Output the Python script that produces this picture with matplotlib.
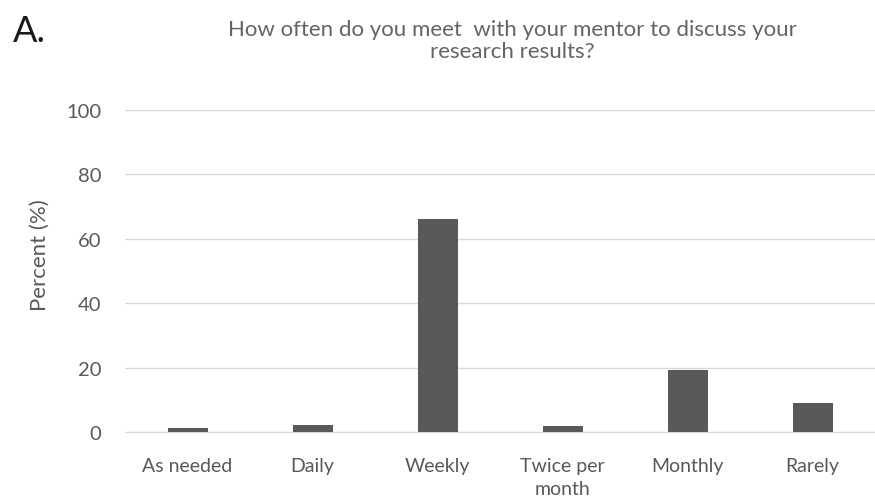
import matplotlib
matplotlib.use("Agg")
import matplotlib.pyplot as plt

categories = ["As needed", "Daily", "Weekly", "Twice per\nmonth", "Monthly", "Rarely"]
values = [1.3, 2.1, 66.0, 2.0, 19.4, 8.9]
yticks = [0, 20, 40, 60, 80, 100]

plt.rcParams['font.family'] = ['Lato', 'DejaVu Sans']
TXT = '#595959'
FS = 14.5

fig = plt.figure(figsize=(8.75, 5.02), dpi=100)
ax = fig.add_axes([125/875, 69/502, 750/875, 322/502])
x = range(len(categories))
ax.bar(x, values, width=0.32, color='#595959', zorder=3)
ax.set_xlim(-0.5, len(categories) - 0.5)
ax.set_ylim(0, 100)
ax.set_yticks(yticks)
ax.set_yticklabels([str(v) for v in yticks], fontsize=FS, color=TXT)
ax.set_xticks(list(x))
ax.set_xticklabels(categories, fontsize=FS - 0.5, color=TXT, linespacing=1.45)
ax.tick_params(axis='y', length=0, pad=17)
ax.tick_params(axis='x', length=0, pad=18)
ax.grid(axis='y', color='#d9d9d9', linewidth=1, zorder=0)
for s in ['top', 'right', 'left']:
    ax.spines[s].set_visible(False)
ax.spines['bottom'].set_color('#d9d9d9')
ax.set_ylabel('Percent (%)', fontsize=16, color=TXT, labelpad=12)
ax.yaxis.set_label_coords(-0.10, 0.553)

fig.text(512/875, 1 - 58/502, "How often do you meet  with your mentor to discuss your\nresearch results?",
         ha='center', va='baseline', fontsize=16, color='#646464', linespacing=1.1)
fig.text(13/875, 1 - 42/502, "A.", fontsize=26, color='#1a1a1a', ha='left', va='baseline')

fig.savefig("out.png", dpi=100)
